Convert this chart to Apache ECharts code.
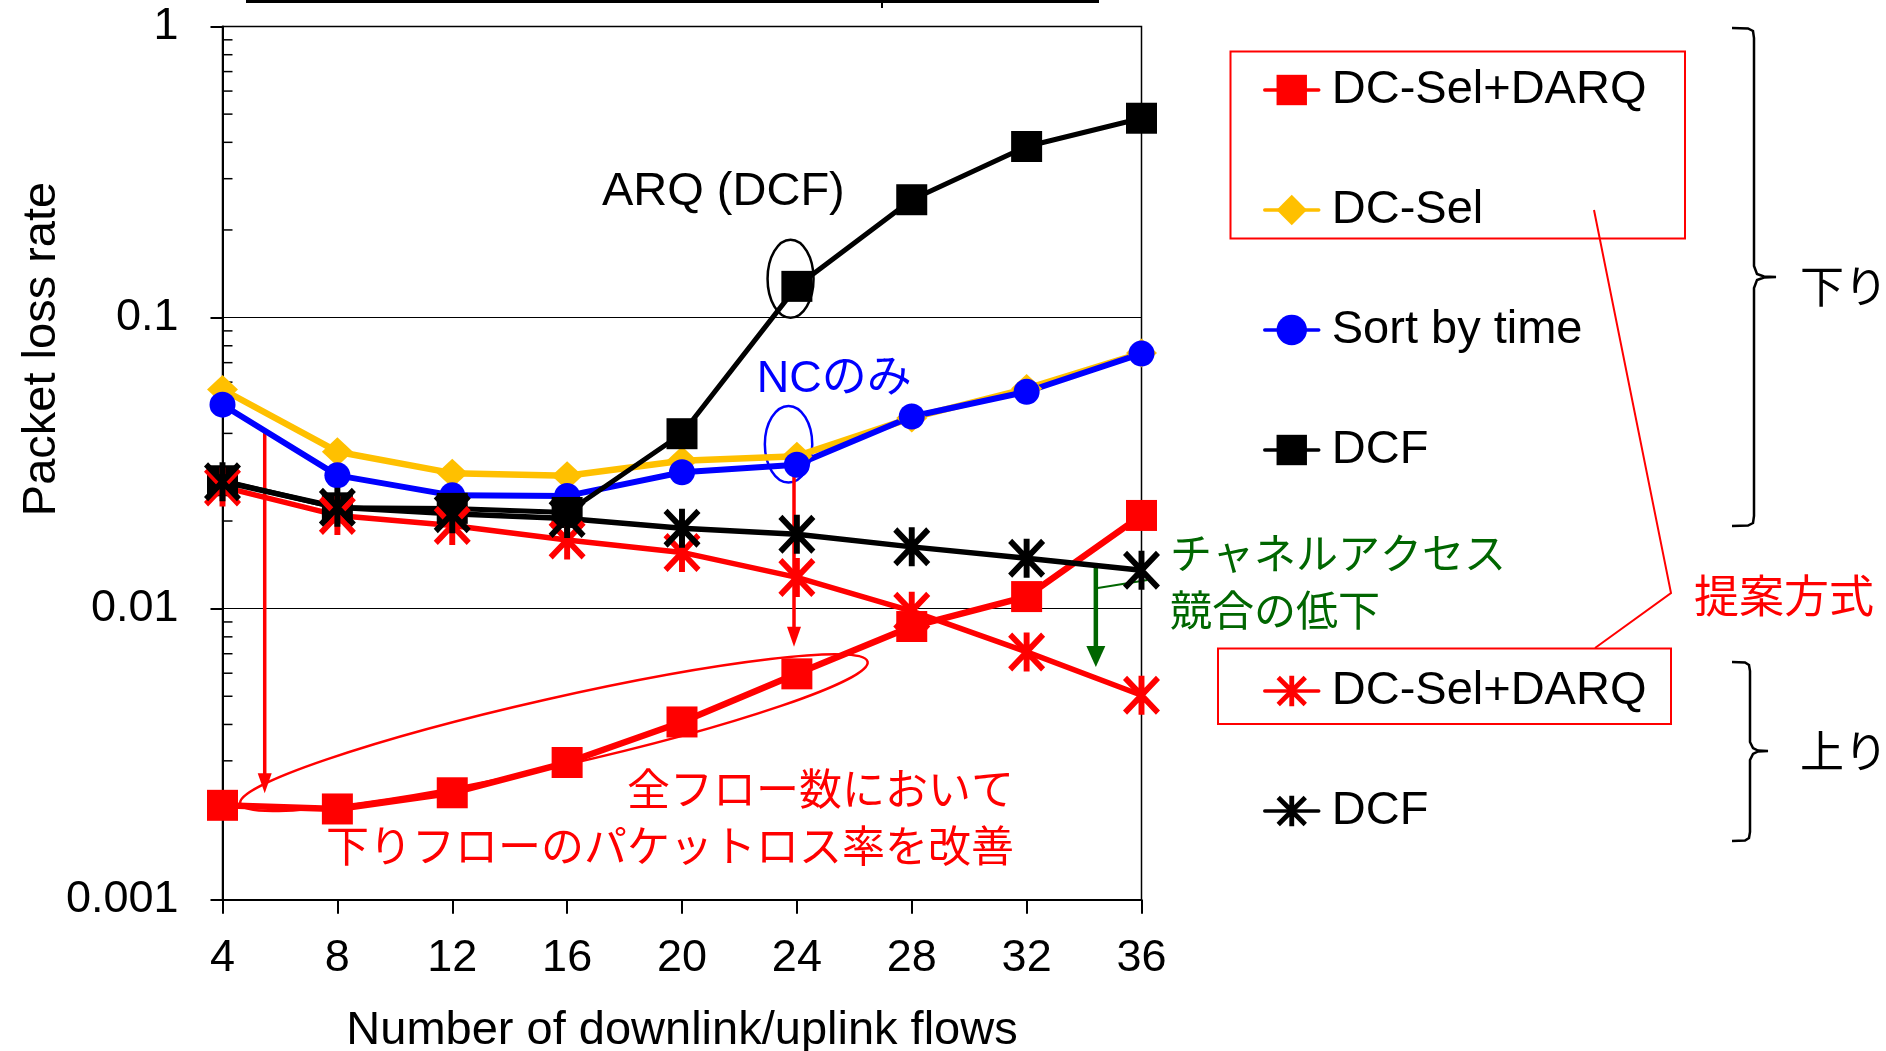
<!DOCTYPE html>
<html><head><meta charset="utf-8">
<script src="https://cdn.jsdelivr.net/npm/echarts@6/dist/echarts.min.js"></script>
<style>html,body{margin:0;padding:0;background:#fff}#c{width:1886px;height:1051px}</style>
</head><body><div id="c"></div>
<script>
// ---- data ----
const flows = [4, 8, 12, 16, 20, 24, 28, 32, 36];
const xTickLabels = ['4', '8', '12', '16', '20', '24', '28', '32', '36'];
const yTickLabels = ['0.001', '0.01', '0.1', '1'];
const downDcSelDarq = [0.00211, 0.00205, 0.00233, 0.00296, 0.00408, 0.00597, 0.00868, 0.0110, 0.0209];
const downDcSel = [0.0566, 0.0346, 0.0292, 0.0286, 0.0322, 0.0334, 0.0452, 0.0570, 0.0755];
const downSortByTime = [0.0502, 0.0287, 0.0245, 0.0244, 0.0294, 0.0312, 0.0457, 0.0556, 0.0752];
const downDcf = [0.0275, 0.0222, 0.0221, 0.0214, 0.0399, 0.128, 0.254, 0.387, 0.484];
const upDcSelDarq = [0.0262, 0.0209, 0.0193, 0.0172, 0.0156, 0.0128, 0.0098, 0.0071, 0.00504];
const upDcf = [0.0273, 0.0223, 0.0212, 0.0204, 0.0189, 0.0180, 0.0163, 0.0149, 0.01355];

const FONT = '"Liberation Sans", "Noto Sans CJK JP", sans-serif';
const JFONT = '"Noto Sans CJK JP", "Liberation Sans", sans-serif';
const STAR = 'path://M42,0L58,0L58,100L42,100Z M11,0L100,89L89,100L0,11Z M89,0L100,11L11,100L0,89Z';

function pairs(vals) { return flows.map((x, i) => [x, vals[i]]); }
function ser(name, vals, color, symbol, size, width) {
  return {
    name, type: 'line', data: pairs(vals), symbol, symbolSize: size,
    lineStyle: { color, width }, itemStyle: { color }, showSymbol: true,
    emphasis: { disabled: true }, animation: false
  };
}

const chart = echarts.init(document.getElementById('c'), null, { renderer: 'canvas' });
const legendText = { fontSize: 47, color: '#000', fontFamily: FONT, lineHeight: 50, padding: [0, 0, 0, 8] };
chart.setOption({
  backgroundColor: '#fff',
  animation: false,
  grid: { left: 222.5, right: 744.5, top: 26.5, bottom: 151.3, containLabel: false, outerBoundsMode: 'none',
    show: true, borderColor: '#000', borderWidth: 1.5 },
  xAxis: {
    type: 'value', min: 4, max: 36, interval: 4,
    axisLine: { onZero: false, lineStyle: { color: '#000', width: 2 } },
    axisTick: { length: 14, lineStyle: { color: '#000', width: 2 } },
    axisLabel: { fontSize: 45, color: '#000', fontFamily: FONT, margin: 36,
      formatter: v => xTickLabels[flows.indexOf(v)] },
    splitLine: { show: false },
    name: 'Number of downlink/uplink flows', nameLocation: 'middle', nameGap: 108,
    nameTextStyle: { fontSize: 47, color: '#000', fontFamily: FONT }
  },
  yAxis: {
    type: 'log', logBase: 10, min: 0.001, max: 1,
    axisLine: { show: true, onZero: false, lineStyle: { color: '#000', width: 2 } },
    axisTick: { show: true, inside: false, length: 12, lineStyle: { color: '#000', width: 2 } },
    axisLabel: { fontSize: 45, color: '#000', fontFamily: FONT, margin: 44,
      formatter: v => yTickLabels[Math.round(Math.log10(v)) + 3] },
    splitLine: { show: true, lineStyle: { color: '#000', width: 1.2 } }
  },
  legend: [{
    data: ['DC-Sel+DARQ', 'DC-Sel', 'Sort by time', 'DCF'],
    orient: 'vertical', left: 1258, top: 60, itemWidth: 54, itemHeight: 38, itemGap: 70,
    selectedMode: false, textStyle: legendText, lineStyle: { width: 3.5, cap: 'round' }
  }, {
    data: ['DC-Sel+DARQ (up)', 'DCF (up)'],
    orient: 'vertical', left: 1258, top: 661, itemWidth: 54, itemHeight: 38, itemGap: 70,
    selectedMode: false,
    formatter: n => n.replace(' (up)', ''),
    textStyle: legendText, lineStyle: { width: 3.5, cap: 'round' }
  }],
  series: [
    ser('DC-Sel+DARQ', downDcSelDarq, '#FF0000', 'rect', 31, 6.5),
    ser('DC-Sel', downDcSel, '#FFC000', 'diamond', [31, 29], 6.5),
    ser('Sort by time', downSortByTime, '#0000FF', 'circle', 26, 6),
    ser('DCF', downDcf, '#000000', 'rect', 31, 5),
    ser('DC-Sel+DARQ (up)', upDcSelDarq, '#FF0000', STAR, [37, 39], 5.5),
    ser('DCF (up)', upDcf, '#000000', STAR, [37, 39], 5.5)
  ]
});

// ---- annotations, placed through the chart's own scales ----
function px(x, y) { return chart.convertToPixel({ gridIndex: 0 }, [x, y]); }
const g = [];
// minor ticks on the log axis (2..9 x 10^k)
const x0 = px(4, 0.01)[0];
for (let k = -3; k <= -1; k++) {
  for (let m = 2; m <= 9; m++) {
    const y = px(4, m * Math.pow(10, k))[1];
    g.push({ type: 'line', shape: { x1: x0, y1: y, x2: x0 + 10, y2: y }, style: { stroke: '#000', lineWidth: 1.5 }, silent: true });
  }
}
function arrow(x, y1, y2, color, w, hw, hl) {
  g.push({ type: 'line', shape: { x1: x, y1: y1, x2: x, y2: y2 - hl + 2 }, style: { stroke: color, lineWidth: w }, silent: true });
  g.push({ type: 'polygon', shape: { points: [[x - hw / 2, y2 - hl], [x + hw / 2, y2 - hl], [x, y2]] }, style: { fill: color }, silent: true });
}
function ellipse(cx, cy, rx, ry, color, rot) {
  g.push({ type: 'ellipse', x: cx, y: cy, rotation: rot || 0, shape: { cx: 0, cy: 0, rx, ry },
    style: { fill: null, stroke: color, lineWidth: 2.5 }, silent: true });
}
function text(x, y, s, color, size, align, font, rot) {
  g.push({ type: 'text', x, y, rotation: rot || 0, style: { text: s, fill: color, font: size + 'px ' + (font || FONT), textAlign: align || 'center', textVerticalAlign: 'middle' }, silent: true, z: 10 });
}
let p, q;
// y axis title
text(42, 349, 'Packet loss rate', '#000', 47, 'center', FONT, Math.PI / 2);
// ARQ (DCF) label and ellipse
p = px(21.44, 0.269); text(p[0], p[1], 'ARQ (DCF)', '#000', 47, 'center');
p = px(23.78, 0.136); ellipse(p[0], p[1], 23, 39, '#000');
// NC only label and ellipse
p = px(25.3, 0.0611); text(p[0], p[1], 'NCのみ', '#0000FF', 45, 'center');
p = px(23.71, 0.0367); ellipse(p[0], p[1], 23.7, 38.3, '#0000FF');
// red arrows
p = px(5.47, 0.0403); q = px(5.47, 0.00232); arrow(p[0], p[1], q[1], '#FF0000', 3.5, 14, 20);
p = px(23.9, 0.0312); q = px(23.9, 0.0074); arrow(p[0], p[1], q[1], '#FF0000', 3.5, 14, 20);
// red ellipse around improved points
p = px(15.54, 0.00375); ellipse(p[0], p[1], 321.6, 34, '#FF0000', 0.2225);
// red text
p = px(31.56, 0.0024); text(p[0], p[1], '全フロー数において', '#FF0000', 43, 'right', JFONT);
p = px(31.56, 0.001535); text(p[0], p[1], '下りフローのパケットロス率を改善', '#FF0000', 43, 'right', JFONT);
// green arrow
p = px(34.41, 0.01425); q = px(34.41, 0.0063); arrow(p[0], p[1], q[1], '#006600', 4.5, 19, 21);
p = px(34.48, 0.01178); q = px(36, 0.01178);
g.push({ type: 'line', shape: { x1: p[0], y1: p[1], x2: q[0] + 6, y2: p[1] - 8 }, style: { stroke: '#006600', lineWidth: 2 }, silent: true });
text(1170, 553, 'チャネルアクセス', '#006600', 42, 'left', JFONT);
text(1170, 610, '競合の低下', '#006600', 42, 'left', JFONT);

// top cropped frame line
g.push({ type: 'line', shape: { x1: 246, y1: 1.5, x2: 1099, y2: 1.5 }, style: { stroke: '#000', lineWidth: 3 }, silent: true });
g.push({ type: 'line', shape: { x1: 882, y1: 0, x2: 882, y2: 8 }, style: { stroke: '#000', lineWidth: 2 }, silent: true });
// legend boxes and connector
g.push({ type: 'rect', shape: { x: 1230.5, y: 51.5, width: 454.5, height: 187 }, style: { fill: null, stroke: '#FF0000', lineWidth: 2 }, silent: true });
g.push({ type: 'rect', shape: { x: 1218, y: 648.5, width: 453, height: 75.5 }, style: { fill: null, stroke: '#FF0000', lineWidth: 2 }, silent: true });
g.push({ type: 'polyline', shape: { points: [[1594, 210], [1671, 593], [1595, 648]] }, style: { fill: null, stroke: '#FF0000', lineWidth: 2 }, silent: true });
text(1694, 596, '提案方式', '#FF0000', 45, 'left', JFONT);
// braces
g.push({ type: 'polyline', shape: { points: [[1732, 28], [1748, 28.5], [1753, 31], [1754, 38], [1754, 266], [1757, 274], [1764, 276.5], [1776, 277], [1764, 277.5], [1757, 280], [1754, 288], [1754, 516], [1753, 523], [1748, 525.5], [1732, 526]] }, style: { fill: null, stroke: '#000', lineWidth: 2.5 }, silent: true });
g.push({ type: 'polyline', shape: { points: [[1732, 662], [1745, 662.5], [1749, 665], [1750, 671], [1750, 742], [1753, 748], [1758, 750.5], [1768, 751], [1758, 751.5], [1753, 754], [1750, 760], [1750, 832], [1749, 838], [1745, 840.5], [1732, 841]] }, style: { fill: null, stroke: '#000', lineWidth: 2.5 }, silent: true });
text(1800, 286, '下り', '#000', 44, 'left', JFONT);
text(1800, 751, '上り', '#000', 44, 'left', JFONT);

chart.setOption({ graphic: { elements: g } });
</script>
</body></html>
